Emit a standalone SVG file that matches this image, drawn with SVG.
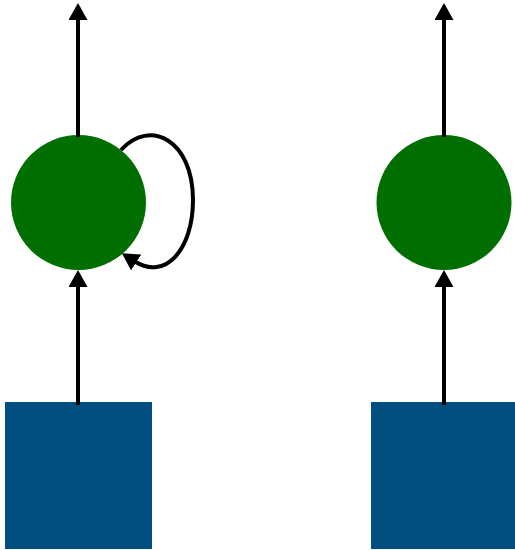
<svg xmlns="http://www.w3.org/2000/svg" width="515" height="550" viewBox="0 0 515 550">
<defs>
<marker id="ah" viewBox="0 0 17 19" markerWidth="17" markerHeight="19" refX="2" refY="9.5" orient="auto" markerUnits="userSpaceOnUse">
<path d="M0,0 L17,9.5 L0,19 z" fill="#000"/>
</marker>
<style>
.sq{fill:#004f80}
.ci{fill:#006f00}
.ed{stroke:#000;stroke-width:4;fill:none;marker-end:url(#ah)}
</style>
</defs>
<rect width="515" height="550" fill="#fff"/>
<g id="in1"><rect class="sq" x="5" y="402" width="147" height="147"/></g>
<g id="in2"><rect class="sq" x="371" y="402" width="147" height="147"/></g>
<g id="h1"><circle class="ci" cx="78.5" cy="202.5" r="67.5"/></g>
<g id="h2"><circle class="ci" cx="444" cy="202.5" r="67.5"/></g>
<g id="edges">
<path class="ed" d="M78,405 L78,285"/>
<path class="ed" d="M444,405 L444,285"/>
<path class="ed" d="M78,137 L78,18"/>
<path class="ed" d="M444,137 L444,18"/>
<path class="ed" d="M121,150 C150,118 193,140 193,200 C193,250 165,281 134.5,261.3"/>
</g>
</svg>
